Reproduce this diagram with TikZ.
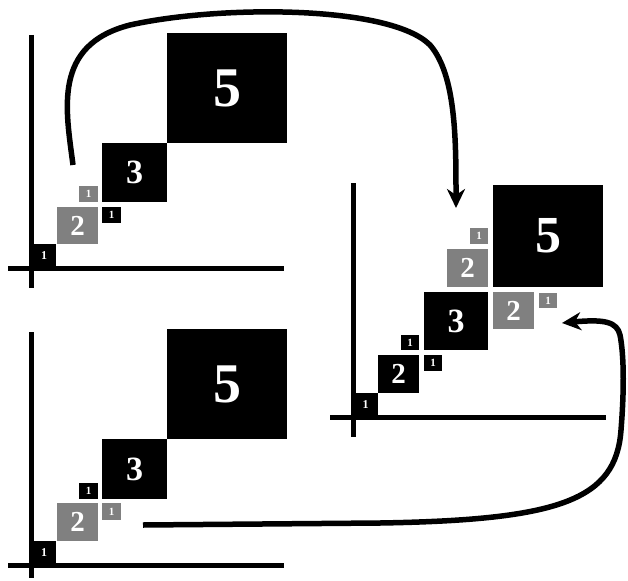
\documentclass[tikz,border=0pt]{standalone}
\usepackage{fontspec}
\setmainfont{Liberation Serif}
\usetikzlibrary{arrows.meta}
\definecolor{sqgray}{HTML}{808080}
\tikzset{
  sq/.style={rectangle, inner sep=0pt, outer sep=0pt, text=white, font=\bfseries},
  blk/.style={sq, fill=black},
  gry/.style={sq, fill=sqgray},
  axis/.style={line width=5pt},
  bigarrow/.style={line width=5.5pt, -{Stealth[length=19pt,width=18pt,inset=6pt]}},
}
\newcommand{\fs}[1]{\fontsize{#1}{#1}\selectfont}
\begin{document}
\begin{tikzpicture}[x=1pt,y=-1pt]
\useasboundingbox (0,0) rectangle (628,580);
% ---------- panel 1 (top-left)
\node[blk, minimum width=24pt, minimum height=24pt, font=\bfseries\fs{12}] (a1) at (44,256) {1};
\node[gry, minimum width=41pt, minimum height=37pt, font=\bfseries\fs{29}] (a2) at (77.5,225.5) {2};
\node[blk, minimum width=65pt, minimum height=59pt, font=\bfseries\fs{34}] (a3) at (134.5,172.5) {3};
\node[blk, minimum width=120pt, minimum height=110pt, font=\bfseries\fs{56}] (a5) at (227,88) {5};
\node[gry, minimum width=19pt, minimum height=16pt, font=\bfseries\fs{11}] (a1g) at (88.5,194) {1};
\node[blk, minimum width=19pt, minimum height=16pt, font=\bfseries\fs{11}] (a1b) at (111.5,215) {1};
\draw[axis] (31,35) -- (31,288);
\draw[axis] (8,268) -- (284,268);
% ---------- panel 2 (bottom-left)
\node[blk, minimum width=24pt, minimum height=24pt, font=\bfseries\fs{12}] (b1) at (44,553) {1};
\node[gry, minimum width=41pt, minimum height=38pt, font=\bfseries\fs{29}] (b2) at (77.5,522) {2};
\node[blk, minimum width=65pt, minimum height=60pt, font=\bfseries\fs{34}] (b3) at (134.5,469) {3};
\node[blk, minimum width=120pt, minimum height=110pt, font=\bfseries\fs{56}] (b5) at (227,384) {5};
\node[blk, minimum width=19pt, minimum height=16pt, font=\bfseries\fs{11}] (b1b) at (88.5,491) {1};
\node[gry, minimum width=19pt, minimum height=17pt, font=\bfseries\fs{11}] (b1g) at (111.5,511.5) {1};
\draw[axis] (31,332) -- (31,578);
\draw[axis] (8,565) -- (284,565);
% ---------- panel 3 (right)
\node[blk, minimum width=25pt, minimum height=24pt, font=\bfseries\fs{12}] (c1) at (365.5,405) {1};
\node[blk, minimum width=41pt, minimum height=38pt, font=\bfseries\fs{29}] (c2) at (398.5,374) {2};
\node[blk, minimum width=18pt, minimum height=15pt, font=\bfseries\fs{11}] (c1a) at (410,342.5) {1};
\node[blk, minimum width=18pt, minimum height=16pt, font=\bfseries\fs{11}] (c1b) at (433,363) {1};
\node[blk, minimum width=64pt, minimum height=58pt, font=\bfseries\fs{34}] (c3) at (456,321) {3};
\node[gry, minimum width=41pt, minimum height=38pt, font=\bfseries\fs{29}] (c2g) at (467.5,268) {2};
\node[gry, minimum width=18pt, minimum height=16pt, font=\bfseries\fs{11}] (c1g) at (479,236) {1};
\node[blk, minimum width=110pt, minimum height=102pt, font=\bfseries\fs{52}] (c5) at (548,236) {5};
\node[gry, minimum width=41pt, minimum height=37pt, font=\bfseries\fs{29}] (c2h) at (513.5,310.5) {2};
\node[gry, minimum width=18pt, minimum height=15pt, font=\bfseries\fs{11}] (c1h) at (548,300.5) {1};
\draw[axis] (353,183) -- (353,437);
\draw[axis] (330,417) -- (606,417);
% ---------- arrows
\coordinate (s1) at (73,165);
\coordinate (e1) at (456,208);
\coordinate (s2) at (143,525);
\coordinate (e2) at (562,323);
\draw[bigarrow] (s1) .. controls (66,110) and (52,45) .. (130,25)
  .. controls (220,5) and (390,5) .. (430,45)
  .. controls (456,75) and (456,140) .. (e1);
\draw[bigarrow] (s2) -- (380,523)
  .. controls (560,520) and (616,500) .. (621,430)
  .. controls (625,380) and (623,350) .. (620,335)
  .. controls (617,322) and (605,319) .. (e2);
\end{tikzpicture}
\end{document}
